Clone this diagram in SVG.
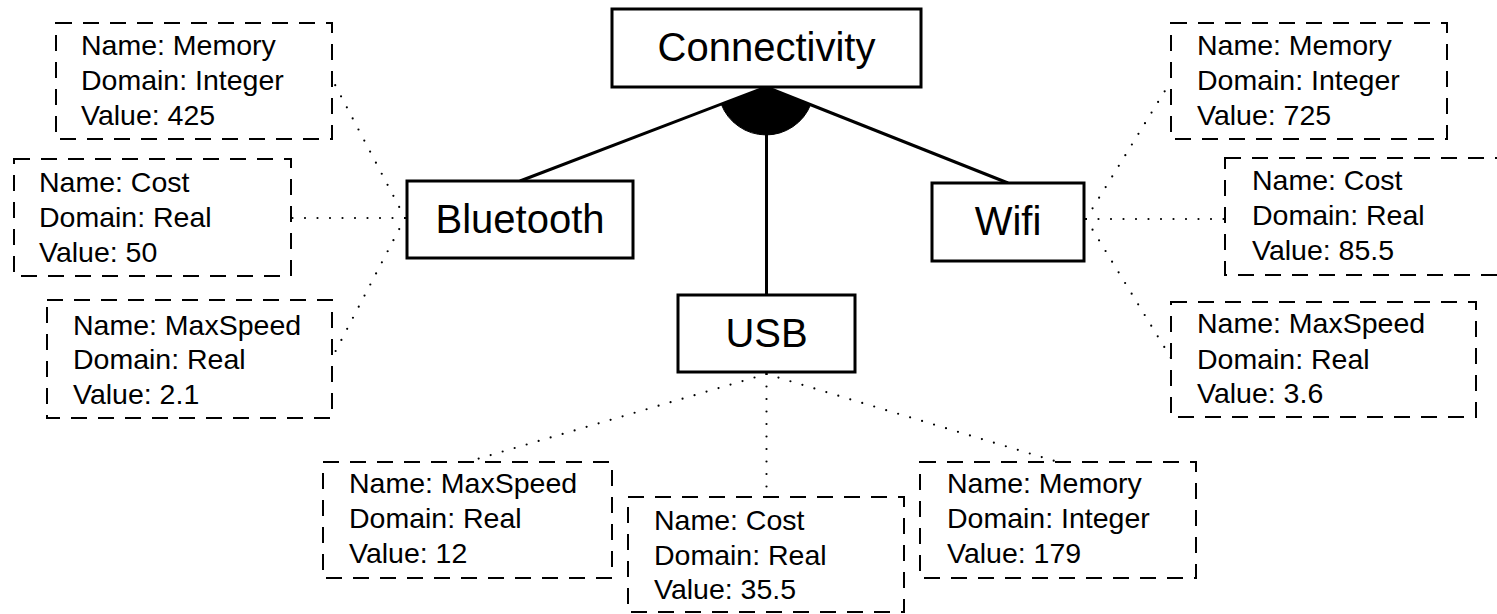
<svg xmlns="http://www.w3.org/2000/svg" width="1497" height="614" viewBox="0 0 1497 614">
<style>
.solid{fill:#fff;stroke:#000;stroke-width:3}
.dash{fill:#fff;stroke:#000;stroke-width:2;stroke-dasharray:16 11}
.big{font-family:"Liberation Sans",Arial,sans-serif;font-size:40px;fill:#000;text-anchor:middle}
.attr{font-family:"Liberation Sans",Arial,sans-serif;font-size:28.5px;fill:#000}
.edge{stroke:#000;stroke-width:3;fill:none}
.dot{stroke:#000;stroke-width:2.2;fill:none;stroke-dasharray:0 12.5;stroke-linecap:round}
</style>
<rect width="1497" height="614" fill="#fff"/>
<g id="connectors">
<line class="edge" x1="766" y1="87" x2="520" y2="181"/>
<line class="edge" x1="766" y1="87" x2="1008" y2="183"/>
<line class="edge" x1="766.5" y1="87" x2="766.5" y2="295"/>
<path d="M766,87 L721.2,104.1 A48,48 0 0,0 810.6,104.7 Z" fill="#000" stroke="#000" stroke-width="1"/>
<line class="dot" x1="405" y1="218" x2="333" y2="81"/>
<line class="dot" x1="405" y1="218" x2="291" y2="218"/>
<line class="dot" x1="405" y1="218" x2="333" y2="356"/>
<line class="dot" x1="1086" y1="219" x2="1171" y2="81"/>
<line class="dot" x1="1086" y1="219" x2="1225" y2="219"/>
<line class="dot" x1="1086" y1="219" x2="1171" y2="358"/>
<line class="dot" x1="766.5" y1="374" x2="467" y2="462"/>
<line class="dot" x1="766.5" y1="374" x2="766.5" y2="497"/>
<line class="dot" x1="766.5" y1="374" x2="1058" y2="462"/>
</g>
<g id="connectivity">
<rect class="solid" x="612" y="9" width="309" height="78"/>
<text class="big" x="766.5" y="61">Connectivity</text>
</g>
<g id="bluetooth">
<rect class="solid" x="407" y="181" width="226" height="77"/>
<text class="big" x="520" y="233">Bluetooth</text>
</g>
<g id="wifi">
<rect class="solid" x="932" y="183" width="152" height="78"/>
<text class="big" x="1008" y="235">Wifi</text>
</g>
<g id="usb">
<rect class="solid" x="678" y="295" width="177" height="77"/>
<text class="big" x="766.5" y="347">USB</text>
</g>
<g id="bt-memory">
<rect class="dash" x="56" y="23" width="276" height="116"/>
<text class="attr" x="81" y="55">Name: Memory</text>
<text class="attr" x="81" y="90">Domain: Integer</text>
<text class="attr" x="81" y="125">Value: 425</text>
</g>
<g id="bt-cost">
<rect class="dash" x="14" y="159" width="277" height="117"/>
<text class="attr" x="39" y="192">Name: Cost</text>
<text class="attr" x="39" y="227">Domain: Real</text>
<text class="attr" x="39" y="262">Value: 50</text>
</g>
<g id="bt-maxspeed">
<rect class="dash" x="47" y="300" width="285" height="118"/>
<text class="attr" x="73" y="335">Name: MaxSpeed</text>
<text class="attr" x="73" y="369">Domain: Real</text>
<text class="attr" x="73" y="404">Value: 2.1</text>
</g>
<g id="wifi-memory">
<rect class="dash" x="1171" y="23" width="276" height="116"/>
<text class="attr" x="1197" y="55">Name: Memory</text>
<text class="attr" x="1197" y="90">Domain: Integer</text>
<text class="attr" x="1197" y="125">Value: 725</text>
</g>
<g id="wifi-cost">
<rect class="dash" x="1225" y="158" width="280" height="117"/>
<text class="attr" x="1252" y="190">Name: Cost</text>
<text class="attr" x="1252" y="225">Domain: Real</text>
<text class="attr" x="1252" y="260">Value: 85.5</text>
</g>
<g id="wifi-maxspeed">
<rect class="dash" x="1171" y="302" width="305" height="115"/>
<text class="attr" x="1197" y="333">Name: MaxSpeed</text>
<text class="attr" x="1197" y="369">Domain: Real</text>
<text class="attr" x="1197" y="403">Value: 3.6</text>
</g>
<g id="usb-maxspeed">
<rect class="dash" x="323" y="462" width="289" height="116"/>
<text class="attr" x="349" y="493">Name: MaxSpeed</text>
<text class="attr" x="349" y="528">Domain: Real</text>
<text class="attr" x="349" y="563">Value: 12</text>
</g>
<g id="usb-cost">
<rect class="dash" x="628" y="497" width="276" height="115"/>
<text class="attr" x="654" y="530">Name: Cost</text>
<text class="attr" x="654" y="565">Domain: Real</text>
<text class="attr" x="654" y="599">Value: 35.5</text>
</g>
<g id="usb-memory">
<rect class="dash" x="920" y="462" width="276" height="116"/>
<text class="attr" x="947" y="493">Name: Memory</text>
<text class="attr" x="947" y="528">Domain: Integer</text>
<text class="attr" x="947" y="563">Value: 179</text>
</g>
</svg>
